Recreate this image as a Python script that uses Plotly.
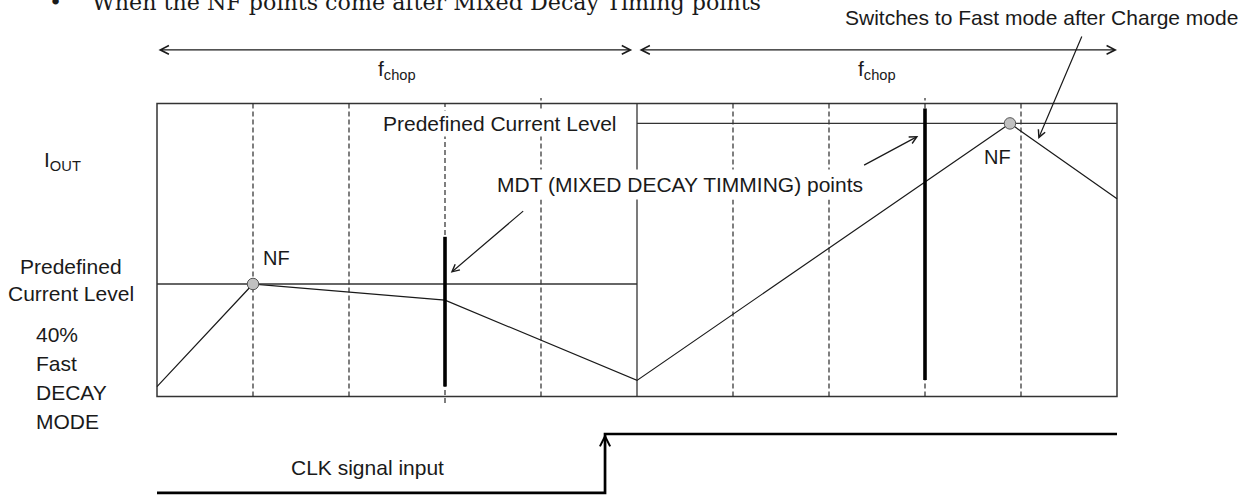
import plotly.graph_objects as go

# ---- diagram data (time in fifths of the chop period, current in % of the box height) ----
grid_t = [1, 2, 3, 4, 6, 7, 8, 9]
grid_lo = [0, 0, -2.2, 0, 0, 0, 0, 0]
grid_hi = [100, 100, 100, 101.9, 100, 100, 101.9, 100]
boundary_t = 5

wave_t = [0, 1, 3, 5, 8.885, 10]
wave_i = [3.4, 38.4, 32.9, 5.5, 93.2, 67.5]

level_left_t = [0, 5]
level_left_i = [38.4, 38.4]
level_right_t = [5, 10]
level_right_i = [93.2, 93.2]

nf_t = [1, 8.885]
nf_i = [38.4, 93.2]

mdt_t = [3, 8]
mdt_lo = [3.4, 5.6]
mdt_hi = [54.5, 98.3]

clk_t = [0, 4.667, 4.667, 10]
clk_v = [-32.9, -32.9, -12.8, -12.8]

SANS = "Liberation Sans, Arial, sans-serif"
SERIF = "DejaVu Serif, serif"
INK = "#1a1a1a"
W, H = 1258, 495

fig = go.Figure()

# waveform
fig.add_trace(go.Scatter(x=wave_t, y=wave_i, mode="lines",
                         line=dict(color=INK, width=1.2), hoverinfo="skip"))
# predefined current levels
fig.add_trace(go.Scatter(x=level_left_t, y=level_left_i, mode="lines",
                         line=dict(color="#333333", width=1.3), hoverinfo="skip"))
fig.add_trace(go.Scatter(x=level_right_t, y=level_right_i, mode="lines",
                         line=dict(color="#333333", width=1.3), hoverinfo="skip"))
# MDT thick bars
for t, lo, hi in zip(mdt_t, mdt_lo, mdt_hi):
    fig.add_trace(go.Scatter(x=[t, t], y=[lo, hi], mode="lines",
                             line=dict(color="black", width=3.6), hoverinfo="skip"))
# NF points
fig.add_trace(go.Scatter(x=nf_t, y=nf_i, mode="markers",
                         marker=dict(size=11.5, color="#c0c0c0",
                                     line=dict(color="#555555", width=1)),
                         hoverinfo="skip"))
# CLK signal
fig.add_trace(go.Scatter(x=clk_t, y=clk_v, mode="lines",
                         line=dict(color="black", width=2.7), hoverinfo="skip"))

# box and grid
fig.add_shape(type="rect", x0=0, x1=10, y0=0, y1=100,
              line=dict(color="#333333", width=1.5), layer="below")
fig.add_shape(type="line", x0=boundary_t, x1=boundary_t, y0=0, y1=100,
              line=dict(color="#333333", width=1.3), layer="below")
for t, lo, hi in zip(grid_t, grid_lo, grid_hi):
    fig.add_shape(type="line", x0=t, x1=t, y0=lo, y1=hi,
                  line=dict(color="#2a2a2a", width=1.2, dash="5px,3px"), layer="below")

ann = []

def text(t, v, s, size=21, xanchor="center", family=SANS, **kw):
    ann.append(dict(x=t, y=v, xref="x", yref="y", text=s, showarrow=False,
                    xanchor=xanchor, yanchor="middle",
                    font=dict(family=family, size=size, color=INK), **kw))

def arrow(t, v, at, av, both=False, width=1.2, size=1.2, color=INK):
    ann.append(dict(x=t, y=v, ax=at, ay=av, xref="x", yref="y", axref="x", ayref="y",
                    text="", showarrow=True, arrowhead=5, startarrowhead=5,
                    arrowside="end+start" if both else "end",
                    arrowsize=size, startarrowsize=size, arrowwidth=width,
                    arrowcolor=color, standoff=0, startstandoff=0))

# f_chop period arrows
arrow(4.95, 118.3, 0, 118.3, both=True, width=1.4)
arrow(10, 118.3, 5.01, 118.3, both=True, width=1.4)
text(2.5, 111.5, "f<sub>chop</sub>")
text(7.5, 111.5, "f<sub>chop</sub>")

# labels
text(-1.198, 80.5, "I<sub>OUT</sub>", xanchor="left")
text(-0.896, 44.2, "Predefined")
text(-0.896, 35.3, "Current Level")
text(-1.281, 21.3, "40%", xanchor="left")
text(-1.281, 11.4, "Fast", xanchor="left")
text(-1.281, 1.5, "DECAY", xanchor="left")
text(-1.281, -8.4, "MODE", xanchor="left")
text(4.80, 93.3, "Predefined Current Level", xanchor="right",
     bgcolor="white", borderpad=1)
text(5.45, 72.5, "MDT (MIXED DECAY TIMMING) points", bgcolor="white", borderpad=3)
text(1.24, 47.3, "NF", size=20)
text(8.75, 81.7, "NF", size=20)
text(2.19, -24.1, "CLK signal input")
text(9.21, 129.2, "Switches to Fast mode after Charge mode")

# heading line (partially cut at the top edge, as in the source), paper coordinates
ann.append(dict(x=90 / W, y=1 - 1.5 / H, xref="paper", yref="paper", showarrow=False,
                text="When the NF points come after Mixed Decay Timing points",
                xanchor="left", yanchor="middle",
                font=dict(family=SERIF, size=22.2, color=INK)))
ann.append(dict(x=55 / W, y=1 - 1.5 / H, xref="paper", yref="paper", showarrow=False,
                text="•", xanchor="center", yanchor="middle",
                font=dict(family=SERIF, size=22.2, color=INK)))

# pointer arrows
arrow(3.06, 42.2, 3.83, 63.7)
arrow(7.93, 88.9, 7.35, 78.7)
arrow(9.18, 87.9, 9.64, 123.4)
# CLK rising edge arrow head
arrow(4.667, -12.8, 4.667, -22, width=2.0, size=1.0, color="black")

fig.update_layout(
    width=W, height=H,
    margin=dict(l=0, r=0, t=0, b=0),
    paper_bgcolor="white", plot_bgcolor="white",
    showlegend=False,
    annotations=ann,
    xaxis=dict(visible=False, range=[-1.6354, 11.4688], fixedrange=True),
    yaxis=dict(visible=False, range=[-33.618, 135.324], fixedrange=True),
)

fig.write_html("out.html", config={"displayModeBar": False},
               post_script="document.body.style.margin='0';document.body.style.overflow='hidden';")
